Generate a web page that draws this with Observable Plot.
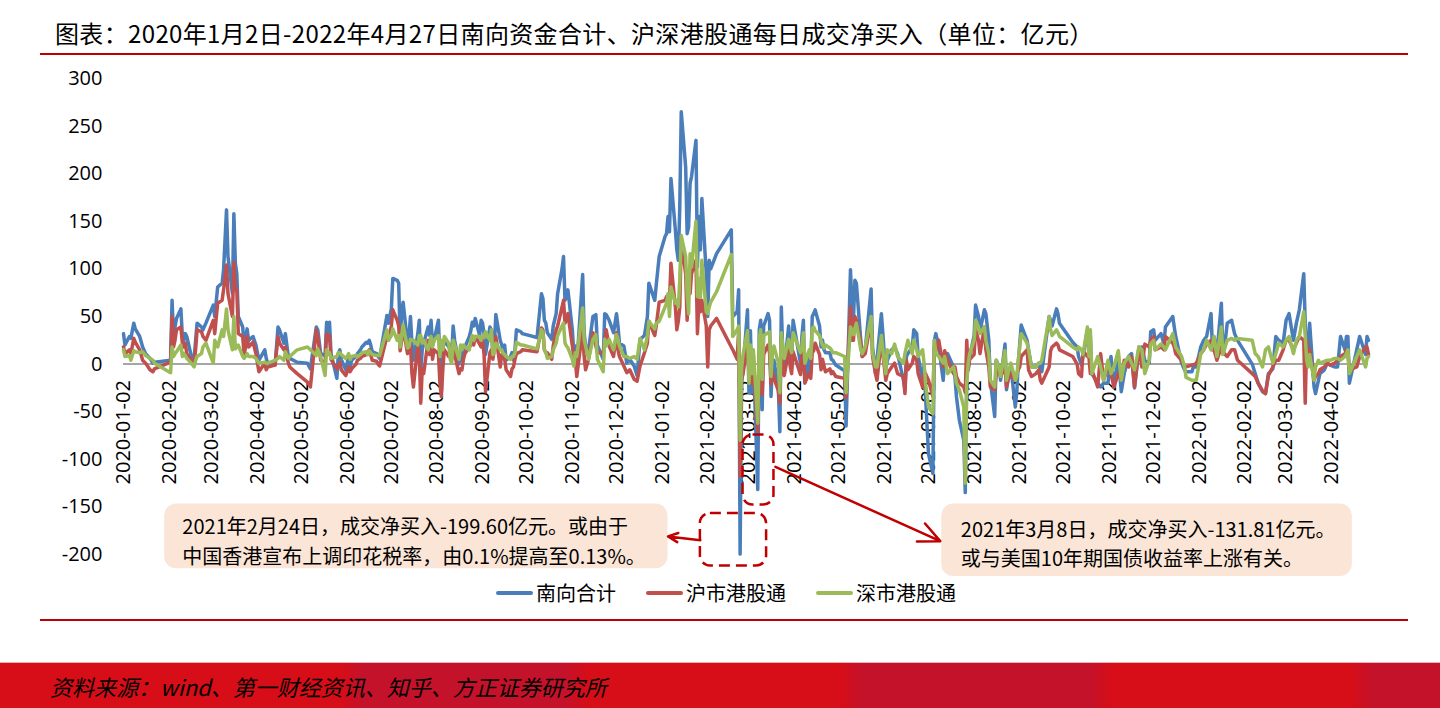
<!DOCTYPE html>
<html><head><meta charset="utf-8">
<script src="https://cdn.jsdelivr.net/npm/d3@7"></script>
<script src="https://cdn.jsdelivr.net/npm/@observablehq/plot@0.6"></script>
<style>
html,body{margin:0;padding:0;background:#fff;}
#page{position:relative;width:1440px;height:708px;overflow:hidden;font-family:"Noto Sans CJK SC","Noto Sans",sans-serif;background:#fff;}
#title{position:absolute;left:55px;top:18px;font-size:24px;line-height:30px;letter-spacing:0.35px;color:#000;white-space:nowrap;}
.rule{position:absolute;left:40px;width:1368px;height:2px;background:#C00000;}
#chart{position:absolute;left:0;top:60px;}
.lg{position:absolute;top:578px;height:30px;line-height:30px;font-size:20px;color:#000;white-space:nowrap;}
.sw{position:absolute;top:591px;height:4px;border-radius:2px;}
#footer{position:absolute;left:0;top:662px;width:1440px;height:46px;
background:linear-gradient(90deg,#D70D17 0px,#D70D17 340px,#C4122A 362px,#C4122A 565px,#D70D17 590px,#D70D17 840px,#C4122A 862px,#C4122A 1090px,#D70D17 1112px,#D70D17 1350px,#C4122A 1372px,#C4122A 1440px);
border-top:1px solid #E7B3B6;}
#source{position:absolute;left:50px;top:671px;font-size:22px;line-height:30px;font-style:italic;color:#000;white-space:nowrap;}
</style></head>
<body><div id="page">
<div id="title">图表：2020年1月2日-2022年4月27日南向资金合计、沪深港股通每日成交净买入（单位：亿元）</div>
<div class="rule" style="top:53px"></div>
<div id="chart"></div>
<div class="sw" style="left:496px;width:37px;background:#4A7EBB"></div><div class="lg" style="left:536px">南向合计</div>
<div class="sw" style="left:646px;width:37px;background:#C0504D"></div><div class="lg" style="left:686px">沪市港股通</div>
<div class="sw" style="left:816px;width:37px;background:#9BBB59"></div><div class="lg" style="left:856px">深市港股通</div>
<div class="rule" style="top:619px"></div>
<div id="footer"></div>
<div id="source">资料来源：wind、第一财经资讯、知乎、方正证券研究所</div>
</div>
<script>
// ---- data (亿元) ----
const dates = [
"2020-01-02","2020-01-03","2020-01-06","2020-01-07","2020-01-09","2020-01-10","2020-01-13","2020-01-15","2020-01-17","2020-01-20","2020-01-22","2020-01-23",
"2020-02-03","2020-02-04","2020-02-05","2020-02-06","2020-02-07","2020-02-10","2020-02-11","2020-02-12","2020-02-13","2020-02-14","2020-02-17","2020-02-19","2020-02-20","2020-02-21","2020-02-24","2020-02-25","2020-02-27",
"2020-03-03","2020-03-04","2020-03-06","2020-03-09","2020-03-10","2020-03-12","2020-03-13","2020-03-16","2020-03-17","2020-03-18","2020-03-19","2020-03-20","2020-03-23","2020-03-24","2020-03-26","2020-03-27","2020-03-30",
"2020-04-01","2020-04-03","2020-04-07","2020-04-08","2020-04-09","2020-04-14","2020-04-16","2020-04-17","2020-04-20","2020-04-21","2020-04-23","2020-04-24","2020-04-29",
"2020-05-06","2020-05-08","2020-05-12","2020-05-13","2020-05-15","2020-05-18","2020-05-19","2020-05-20","2020-05-21","2020-05-22","2020-05-26","2020-05-27","2020-05-28","2020-05-29",
"2020-06-01","2020-06-02","2020-06-03","2020-06-04","2020-06-05","2020-06-08","2020-06-09","2020-06-11","2020-06-12","2020-06-15","2020-06-16","2020-06-17","2020-06-18","2020-06-19","2020-06-22","2020-06-23","2020-06-24","2020-06-29","2020-06-30",
"2020-07-02","2020-07-03","2020-07-06","2020-07-07","2020-07-08","2020-07-09","2020-07-10","2020-07-13","2020-07-14","2020-07-15","2020-07-16","2020-07-17","2020-07-20","2020-07-21","2020-07-22","2020-07-23","2020-07-24","2020-07-27","2020-07-28","2020-07-29","2020-07-30","2020-07-31",
"2020-08-03","2020-08-04","2020-08-05","2020-08-06","2020-08-07","2020-08-10","2020-08-11","2020-08-12","2020-08-13","2020-08-14","2020-08-17","2020-08-18","2020-08-19","2020-08-20","2020-08-21","2020-08-24","2020-08-25","2020-08-26","2020-08-27","2020-08-28","2020-08-31",
"2020-09-01","2020-09-02","2020-09-03","2020-09-04","2020-09-07","2020-09-08","2020-09-09","2020-09-10","2020-09-11","2020-09-14","2020-09-15","2020-09-16","2020-09-17","2020-09-18","2020-09-21","2020-09-22","2020-09-23","2020-09-24","2020-09-25","2020-09-28","2020-09-29",
"2020-10-09","2020-10-12","2020-10-13","2020-10-14","2020-10-15","2020-10-16","2020-10-19","2020-10-20","2020-10-22","2020-10-23","2020-10-26","2020-10-27","2020-10-28","2020-10-29","2020-10-30",
"2020-11-02","2020-11-03","2020-11-04","2020-11-05","2020-11-09","2020-11-10","2020-11-11","2020-11-13","2020-11-16","2020-11-18","2020-11-19","2020-11-23","2020-11-24","2020-11-25","2020-11-27","2020-11-30",
"2020-12-02","2020-12-03","2020-12-04","2020-12-07","2020-12-09","2020-12-11","2020-12-14","2020-12-16","2020-12-18","2020-12-21","2020-12-23","2020-12-24","2020-12-28","2020-12-29","2020-12-31",
"2021-01-04","2021-01-05","2021-01-06","2021-01-07","2021-01-08","2021-01-11","2021-01-12","2021-01-13","2021-01-14","2021-01-15","2021-01-18","2021-01-19","2021-01-20","2021-01-21","2021-01-22","2021-01-25","2021-01-26","2021-01-27","2021-01-28","2021-01-29",
"2021-02-01","2021-02-02","2021-02-03","2021-02-04","2021-02-08","2021-02-18","2021-02-19","2021-02-22","2021-02-23","2021-02-24","2021-02-25","2021-02-26",
"2021-03-01","2021-03-02","2021-03-03","2021-03-04","2021-03-05","2021-03-08","2021-03-09","2021-03-10","2021-03-11","2021-03-12","2021-03-15","2021-03-16","2021-03-17","2021-03-18","2021-03-19","2021-03-22","2021-03-23","2021-03-24","2021-03-25","2021-03-26","2021-03-29","2021-03-30","2021-03-31",
"2021-04-01","2021-04-06","2021-04-07","2021-04-08","2021-04-09","2021-04-12","2021-04-13","2021-04-14","2021-04-15","2021-04-16","2021-04-19","2021-04-20","2021-04-21","2021-04-22","2021-04-23","2021-04-26","2021-04-27","2021-04-28","2021-04-30",
"2021-05-06","2021-05-07","2021-05-10","2021-05-11","2021-05-12","2021-05-13","2021-05-14","2021-05-17","2021-05-18","2021-05-20","2021-05-24","2021-05-25","2021-05-27","2021-05-28","2021-05-31",
"2021-06-02","2021-06-03","2021-06-04","2021-06-07","2021-06-09","2021-06-11","2021-06-15","2021-06-16","2021-06-17","2021-06-18","2021-06-21","2021-06-22","2021-06-24","2021-06-25","2021-06-28","2021-06-29","2021-06-30",
"2021-07-02","2021-07-05","2021-07-06","2021-07-07","2021-07-09","2021-07-12","2021-07-13","2021-07-15","2021-07-19","2021-07-20","2021-07-21","2021-07-23","2021-07-26","2021-07-27","2021-07-28","2021-07-29","2021-07-30",
"2021-08-02","2021-08-03","2021-08-05","2021-08-06","2021-08-09","2021-08-10","2021-08-12","2021-08-13","2021-08-16","2021-08-17","2021-08-19","2021-08-20","2021-08-23","2021-08-24","2021-08-25","2021-08-27","2021-08-30","2021-08-31",
"2021-09-01","2021-09-02","2021-09-03","2021-09-07","2021-09-08","2021-09-10","2021-09-13","2021-09-15","2021-09-16","2021-09-17","2021-09-22","2021-09-23","2021-09-24","2021-09-27","2021-09-28","2021-09-29",
"2021-10-08","2021-10-11","2021-10-12","2021-10-14","2021-10-15","2021-10-18","2021-10-19","2021-10-20","2021-10-21","2021-10-25","2021-10-27","2021-10-29",
"2021-11-01","2021-11-03","2021-11-05","2021-11-08","2021-11-10","2021-11-12","2021-11-15","2021-11-17","2021-11-19","2021-11-22","2021-11-24","2021-11-26","2021-11-29","2021-11-30",
"2021-12-02","2021-12-03","2021-12-07","2021-12-09","2021-12-10","2021-12-15","2021-12-16","2021-12-17","2021-12-21","2021-12-23","2021-12-24","2021-12-28","2021-12-29","2021-12-31",
"2022-01-03","2022-01-05","2022-01-07","2022-01-10","2022-01-11","2022-01-12","2022-01-14","2022-01-17","2022-01-18","2022-01-19","2022-01-21","2022-01-24","2022-01-26","2022-01-28",
"2022-02-07","2022-02-09","2022-02-11","2022-02-14","2022-02-16","2022-02-18","2022-02-21","2022-02-23","2022-02-25","2022-02-28",
"2022-03-02","2022-03-04","2022-03-07","2022-03-09","2022-03-11","2022-03-14","2022-03-15","2022-03-16","2022-03-17","2022-03-18","2022-03-21","2022-03-22","2022-03-24","2022-03-25","2022-03-28","2022-03-30",
"2022-04-01","2022-04-04","2022-04-06","2022-04-08","2022-04-11","2022-04-12","2022-04-13","2022-04-14","2022-04-19","2022-04-21","2022-04-25","2022-04-26","2022-04-27"
];
// 南向合计
const southTotal = [
32,20,29,27,43,37,29,18,11,6,1,2,
4,67,29,39,48,58,29,25,32,29,9,6,25,43,39,36,43,
62,50,81,85,99,162,113,74,158,106,95,50,39,18,37,25,29,
20,4,15,6,1,-1,39,36,22,32,8,6,2,
1,-5,39,36,11,9,44,32,44,11,-15,11,15,5,
-6,1,8,-3,4,8,11,15,18,23,22,25,20,13,11,8,6,51,43,
58,90,88,85,25,53,65,22,29,50,22,4,32,46,-8,15,22,39,30,46,20,25,
46,4,-6,15,25,18,20,10,40,25,0,15,4,15,18,29,35,44,40,48,30,
46,43,32,10,39,36,11,18,52,25,20,15,20,4,8,12,4,15,36,34,32,
28,74,69,46,43,33,26,40,53,74,100,113,67,71,78,
36,11,19,-2,94,33,19,15,50,52,20,5,53,52,46,33,
53,40,22,19,1,5,-2,-12,26,30,50,85,67,83,113,
134,137,155,139,195,141,120,109,165,265,207,137,144,190,197,235,102,155,120,174,
95,50,109,100,116,141,50,55,78,-199.6,-20,-6,
57,-30,35,-30,10,-131.81,36,46,-48,40,53,46,-34,4,4,-27,-71,60,11,-6,40,16,2,
46,1,29,46,-19,6,-9,50,53,57,40,18,25,15,12,12,5,4,-1,
-7,-65,99,60,46,88,85,25,8,15,79,18,-10,4,53,
11,-6,4,15,18,11,-17,-27,8,11,18,36,32,8,-17,0,-34,
-94,-115,25,32,18,-17,8,11,-3,-14,-34,-59,-80,-135,-10,-5,8,
30,62,50,35,57,53,25,-17,-55,4,-3,-17,21,-27,-17,-3,-45,-30,
1,21,41,25,15,-3,-3,1,-6,-8,50,46,40,58,53,43,
23,18,8,-1,8,36,11,29,-10,-20,-24,-20,
-20,8,-24,8,-29,-10,8,11,-25,15,18,4,1,34,
36,25,32,21,39,50,39,29,1,-6,-8,-8,-3,-3,
18,25,29,53,15,29,11,64,15,15,43,46,32,25,
0,-10,-20,-29,-31,-10,-5,29,25,22,
46,53,25,43,57,95,43,15,10,43,-24,-31,-17,-10,-6,1,
-1,-3,-3,29,15,29,29,-20,15,29,10,29,25
];
// 沪市港股通
const shanghai = [
18,11,15,11,27,23,15,4,1,-6,-8,-5,
2,50,18,25,36,39,22,18,22,11,4,2,15,36,34,29,25,
46,32,64,67,78,104,74,50,107,78,78,32,29,9,29,18,23,
11,-8,1,-6,-3,-1,29,22,15,18,1,-3,-10,
-19,-24,36,29,4,1,32,25,30,5,-5,-2,2,-6,
-12,-8,-3,-8,-5,0,4,6,8,10,12,15,10,4,3,0,-2,29,25,
40,57,46,40,14,25,39,11,15,20,-10,-24,20,10,-41,-5,-10,25,10,22,5,15,
11,-20,-34,-5,15,8,15,5,22,10,-10,-5,-6,5,11,18,20,25,20,29,21,
18,25,10,-29,12,15,5,15,29,-3,10,11,5,-6,-13,-5,-3,5,11,13,15,
13,38,36,15,12,12,5,19,36,40,60,67,43,47,53,
19,8,5,-13,36,8,-6,5,33,19,12,12,22,36,19,8,
33,15,8,-2,-9,-6,-16,-18,-2,12,22,45,30,40,65,
67,71,67,64,106,60,36,45,60,130,95,46,88,74,95,109,32,67,55,67,
40,-3,36,40,48,18,15,5,35,-118,-15,-10,
22,-10,15,-20,-5,-70,10,10,-32,10,20,12,-21,-8,-15,-28,-41,27,-8,-12,14,-2,-10,
13,-11,10,13,-20,-9,-15,12,14,22,10,-6,5,-2,-8,-5,-10,-8,-13,
-15,-35,60,25,25,50,46,22,8,11,46,8,-10,-17,25,
-3,-17,-10,-3,1,-10,-13,-31,4,-6,1,8,4,-10,-24,-10,-10,
-17,-34,18,14,25,-3,14,4,-10,-3,-13,-20,-24,-30,25,-6,5,
10,36,25,11,39,15,-3,-24,-27,-10,-6,-13,-3,-24,-17,-10,-17,-10,
-6,-3,8,15,-6,-13,-10,-6,-17,-20,-3,14,18,22,20,15,
8,0,-10,-13,14,8,8,-10,-6,-24,11,-17,
-3,-10,-24,-10,-17,4,-3,8,-24,18,-3,21,18,25,
29,15,18,15,29,22,18,11,4,-3,-3,-1,-1,1,
11,15,21,25,18,15,4,18,15,11,8,15,15,4,
-10,-13,-20,-28,-31,-12,-3,4,4,15,
25,25,15,22,29,25,-41,25,10,15,-17,-13,-10,-6,-3,1,
-1,1,4,8,11,15,11,-6,-3,8,18,18,10
];
// 深市港股通
const shenzhen = [
15,8,9,4,14,13,12,13,9,6,4,1,
-9,18,8,11,13,20,8,11,9,6,1,-3,4,8,11,18,22,
1,25,18,36,29,58,36,15,50,16,18,20,8,6,11,8,8,
6,1,2,1,1,4,6,8,4,13,6,8,15,
18,15,9,16,8,-12,15,10,12,6,8,12,12,10,
6,8,11,5,8,9,8,10,12,13,10,14,12,10,9,9,9,36,25,
30,37,25,30,18,30,41,17,18,26,25,25,20,30,30,22,25,15,22,29,18,25,
30,8,25,15,29,22,5,1,25,20,5,20,15,20,18,15,25,30,25,29,29,
25,29,28,34,25,36,10,12,22,15,15,11,10,8,5,8,8,12,23,20,20,
16,36,33,15,12,6,8,15,22,30,40,43,22,19,17,
5,-2,12,8,59,26,19,5,26,31,5,-8,26,19,26,15,
31,26,19,8,8,6,8,5,27,15,30,45,37,43,45,
60,64,74,50,81,64,67,60,88,135,113,74,53,116,102,150,71,90,70,109,
55,53,60,65,76,115,29,36,40,-80,-5,10,
35,-20,20,-10,15,-62,26,36,-16,30,33,34,-13,12,19,1,-30,33,19,6,26,18,12,
33,12,19,33,1,15,6,38,39,35,30,24,20,17,20,17,15,12,12,
8,-30,39,35,31,38,43,15,11,18,50,11,-3,-3,30,
1,-10,15,11,21,8,1,11,18,25,11,25,15,8,15,1,-20,
-45,-52,25,11,8,1,8,-10,-3,-10,-20,-27,-45,-125,-20,1,11,
25,46,39,32,39,25,11,-17,-24,4,-3,-13,14,-17,-10,1,-17,-13,
4,18,32,22,15,-3,-3,1,1,4,50,36,30,36,33,29,
18,15,18,15,10,39,8,36,-10,8,-3,-17,
4,-10,-3,14,-17,1,8,1,-6,18,15,-10,4,21,
25,15,21,18,15,32,25,18,8,-3,-14,-17,-17,-17,
11,15,25,15,20,29,8,39,10,15,25,27,25,27,
25,11,8,-3,15,18,1,11,22,18,
25,29,11,25,29,55,29,4,-3,10,-17,-3,4,1,3,4,
4,6,6,4,8,11,15,-10,8,15,-3,6,8
];
const tickLabels = [
"2020-01-02","2020-02-02","2020-03-02","2020-04-02","2020-05-02","2020-06-02","2020-07-02","2020-08-02","2020-09-02","2020-10-02","2020-11-02","2020-12-02",
"2021-01-02","2021-02-02","2021-03-02","2021-04-02","2021-05-02","2021-06-02","2021-07-02","2021-08-02","2021-09-02","2021-10-02","2021-11-02","2021-12-02",
"2022-01-02","2022-02-02","2022-03-02","2022-04-02"
];
const yTicks = [-200,-150,-100,-50,0,50,100,150,200,250,300];
const seriesNames = ["南向合计","沪市港股通","深市港股通"];
const seriesColors = ["#4A7EBB","#C0504D","#9BBB59"];

// ---- annotations (in data units) ----
const calloutBoxes = [
  {x1:"2020-01-30", x2:"2021-01-06", y1:-147, y2:-215},
  {x1:"2021-07-11", x2:"2022-04-16", y1:-147, y2:-223}
];
const calloutText = [
  {x:"2020-02-11", y:-184.5, text:"2021年2月24日，成交净买入-199.60亿元。或由于\n中国香港宣布上调印花税率，由0.1%提高至0.13%。"},
  {x:"2021-07-24", y:-187, text:"2021年3月8日，成交净买入-131.81亿元。\n或与美国10年期国债收益率上涨有关。"}
];
const dashedBoxes = [
  {x1:"2021-01-28", x2:"2021-03-14", y1:-157, y2:-212},
  {x1:"2021-02-26", x2:"2021-03-19", y1:-74.5, y2:-148}
];
const arrows = [
  {x1:"2021-01-28", y1:-185, x2:"2021-01-06", y2:-181},
  {x1:"2021-03-20", y1:-108, x2:"2021-07-10", y2:-186}
];

if (dates.length !== southTotal.length || dates.length !== shanghai.length || dates.length !== shenzhen.length)
  throw new Error("length mismatch " + [dates.length, southTotal.length, shanghai.length, shenzhen.length].join(","));

const parse = d3.utcParse("%Y-%m-%d");
const rows = dates.map((d, i) => ({date: parse(d), south: southTotal[i], sh: shanghai[i], sz: shenzhen[i]}));
const P = (s) => parse(s);

const chart = Plot.plot({
  width: 1440, height: 540,
  marginLeft: 123, marginRight: 72, marginTop: 18, marginBottom: 46,
  x: {type: "utc", domain: [parse("2020-01-02"), parse("2022-04-27")], axis: null},
  y: {domain: [-200, 300], ticks: yTicks, tickSize: 0, tickPadding: 21, tickFormat: d => String(d), label: null},
  style: {fontFamily: "'Open Sans', sans-serif", fontSize: "20px", color: "#000", background: "transparent", overflow: "visible"},
  marks: [
    Plot.rect(calloutBoxes, {x1: d => P(d.x1), x2: d => P(d.x2), y1: "y1", y2: "y2", fill: "#FBE5D6", rx: 12, ry: 12}),
    Plot.text(calloutText, {x: d => P(d.x), y: "y", text: "text", textAnchor: "start", lineAnchor: "middle", lineHeight: 1.46, fontSize: 20, fontFamily: "'Noto Sans CJK SC', sans-serif", fill: "#000"}),
    Plot.ruleY([0], {stroke: "#A6A6A6", strokeWidth: 2}),
    Plot.text(tickLabels, {x: d => P(d), y: d => 0, text: d => d, rotate: -90, textAnchor: "end", dy: 16, fontSize: 20, fill: "#000"}),
    Plot.line(rows, {x: "date", y: "south", stroke: seriesColors[0], strokeWidth: 3.5, strokeLinejoin: "round"}),
    Plot.line(rows, {x: "date", y: "sh", stroke: seriesColors[1], strokeWidth: 3.5, strokeLinejoin: "round"}),
    Plot.line(rows, {x: "date", y: "sz", stroke: seriesColors[2], strokeWidth: 3.5, strokeLinejoin: "round"}),
    Plot.rect(dashedBoxes, {x1: d => P(d.x1), x2: d => P(d.x2), y1: "y1", y2: "y2", fill: "none", stroke: "#C00000", strokeWidth: 2.5, strokeDasharray: "11,6", rx: 10, ry: 10}),
    Plot.arrow(arrows, {x1: d => P(d.x1), y1: "y1", x2: d => P(d.x2), y2: "y2", stroke: "#C00000", strokeWidth: 2.5, headLength: 14, headAngle: 50})
  ]
});
document.getElementById("chart").appendChild(chart);
</script>
</body></html>
